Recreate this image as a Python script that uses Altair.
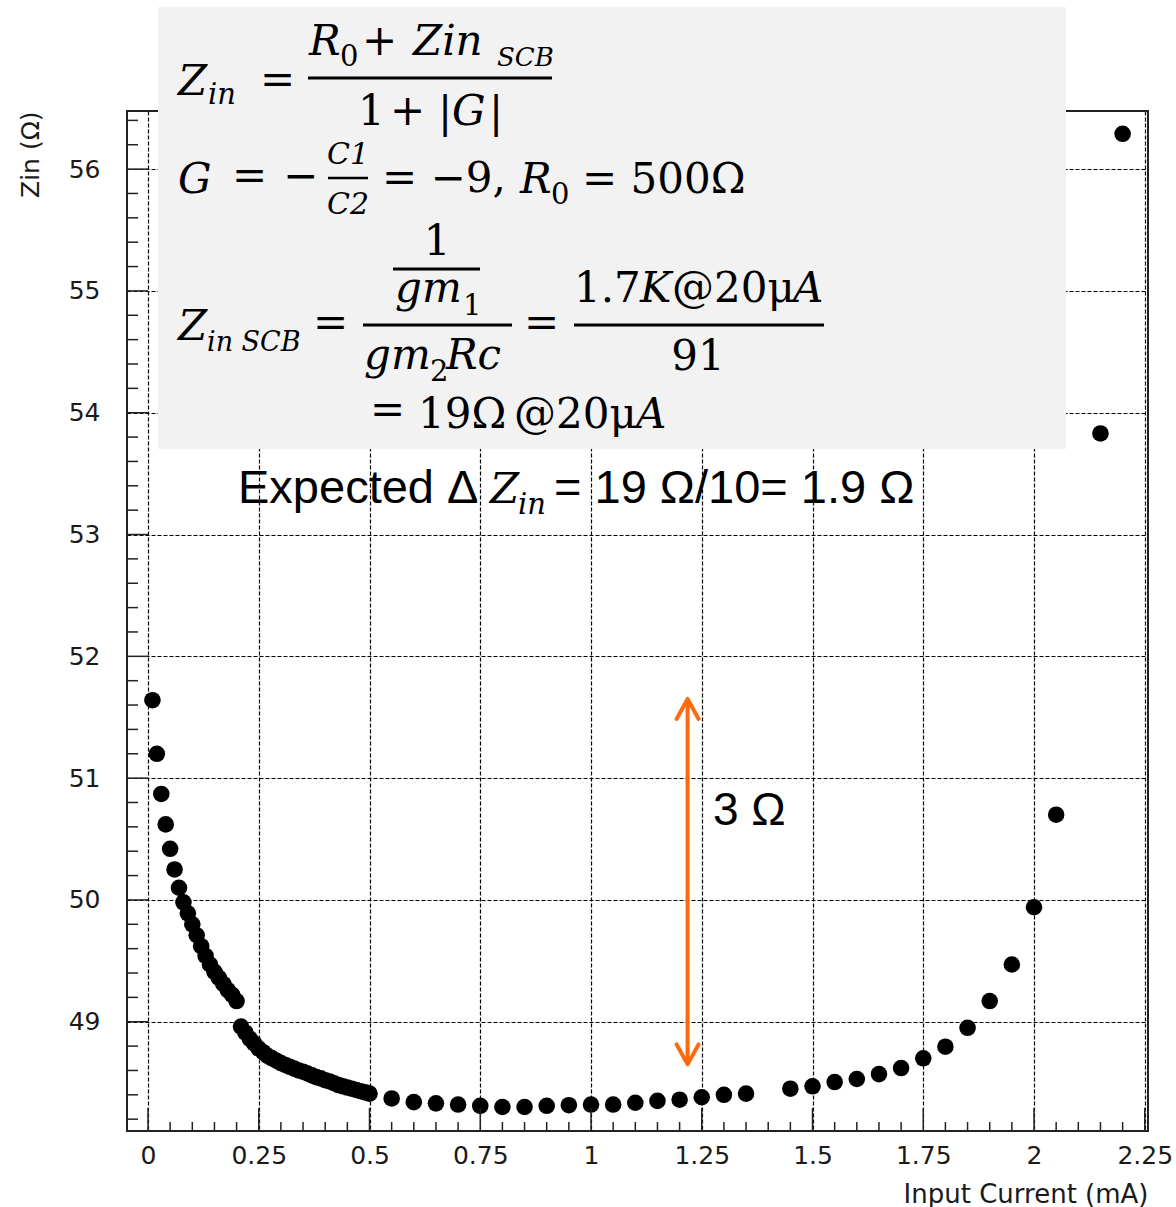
import altair as alt
import pandas as pd

# ---- measured input impedance vs. input current ----
current_mA = [
    0.01, 0.02, 0.03, 0.04, 0.05, 0.06, 0.07, 0.08, 0.09, 0.10,
    0.11, 0.12, 0.13, 0.14, 0.15, 0.16, 0.17, 0.18, 0.19, 0.20,
    0.21, 0.22, 0.23, 0.24, 0.25, 0.26, 0.27, 0.28, 0.29, 0.30,
    0.31, 0.32, 0.33, 0.34, 0.35, 0.36, 0.37, 0.38, 0.39, 0.40,
    0.41, 0.42, 0.43, 0.44, 0.45, 0.46, 0.47, 0.48, 0.49, 0.50,
    0.55, 0.60, 0.65, 0.70, 0.75, 0.80, 0.85, 0.90, 0.95, 1.00,
    1.05, 1.10, 1.15, 1.20, 1.25, 1.30, 1.35,
    1.45, 1.50, 1.55, 1.60, 1.65, 1.70, 1.75, 1.80, 1.85, 1.90, 1.95,
    2.00, 2.05, 2.15, 2.20,
]
zin_ohm = [
    51.64, 51.20, 50.87, 50.62, 50.42, 50.25, 50.10, 49.98, 49.89, 49.80,
    49.71, 49.62, 49.54, 49.47, 49.41, 49.36, 49.31, 49.26, 49.22, 49.17,
    48.96, 48.91, 48.86, 48.82, 48.78, 48.75, 48.72, 48.70, 48.68, 48.66,
    48.645, 48.63, 48.615, 48.60, 48.59, 48.575, 48.56, 48.545, 48.535, 48.52,
    48.51, 48.495, 48.48, 48.47, 48.46, 48.45, 48.44, 48.43, 48.42, 48.41,
    48.37, 48.34, 48.33, 48.32, 48.31, 48.30, 48.30, 48.31, 48.315, 48.32,
    48.32, 48.335, 48.35, 48.36, 48.38, 48.40, 48.41,
    48.45, 48.47, 48.505, 48.53, 48.57, 48.62, 48.70, 48.795, 48.95, 49.17, 49.47,
    49.94, 50.70, 53.83, 56.29,
]

# axis ticks
x_major = [0, 0.25, 0.5, 0.75, 1, 1.25, 1.5, 1.75, 2, 2.25]
y_major = [49, 50, 51, 52, 53, 54, 55, 56]
x_minor = [round(m + k * 0.05, 2) for m in x_major[:-1] for k in (1, 2, 3, 4)]
y_minor = [round(48.0 + k * 0.2, 1) for k in range(1, 43) if k % 5 != 0]

# measured spread marked by the double arrow
arrow_current = 1.218
arrow_low = 48.65
arrow_delta = 3.0
arrow_high = arrow_low + arrow_delta

# ---- layout ----
W, H = 1021, 1020          # plot area
OX, OY = 127, 111          # plot origin inside the page
SANS = "DejaVu Sans"
TEXT_SANS = "Liberation Sans"
SERIF = "DejaVu Serif"
ORANGE = "#FF6A0D"
MATH = 42                  # formula font size
SUB = 29                   # subscript size

xs = alt.Scale(domain=[-0.0474, 2.2573], nice=False, zero=False)
ys = alt.Scale(domain=[48.103, 56.477], nice=False, zero=False)

one = alt.Data(values=[{"k": 0}])

pts = pd.DataFrame({"current": current_mA, "zin": zin_ohm})

x_axis = alt.Axis(
    values=x_major, grid=True, gridColor="#000", gridDash=[4, 2], gridWidth=1.2,
    ticks=False, domain=False, labelExpr="'' + datum.value",
    labelFont=SANS, labelFontSize=25, labelColor="#1a1a1a", labelPadding=12,
    title="Input Current (mA)", titleFont=SANS, titleFontSize=26,
    titleFontWeight="normal", titleColor="#1a1a1a", titleAnchor="end",
    titleAlign="right", titleBaseline="alphabetic", titleX=W, titleY=71,
)
y_axis = alt.Axis(
    values=y_major, grid=True, gridColor="#000", gridDash=[4, 2], gridWidth=1.2,
    ticks=False, domain=False, labelExpr="'' + datum.value",
    labelFont=SANS, labelFontSize=25, labelColor="#1a1a1a", labelPadding=27,
    title="Zin (Ω)", titleFont=SANS, titleFontSize=25, titleFontWeight="normal",
    titleColor="#1a1a1a", titleAngle=270, titleAlign="right",
    titleBaseline="middle", titleX=-97, titleY=0,
)

base = alt.Chart(pts)

points = base.mark_circle(size=275, color="black", opacity=1).encode(
    x=alt.X("current:Q", scale=xs, axis=x_axis),
    y=alt.Y("zin:Q", scale=ys, axis=y_axis),
)

frame = alt.Chart(one).mark_rect(fillOpacity=0, stroke="#222", strokeWidth=2).encode(
    x=alt.value(0), x2=alt.value(W), y=alt.value(0), y2=alt.value(H)
)


def ticks_x(vals, length):
    return alt.Chart(pd.DataFrame({"t": vals})).mark_rule(
        color="#222", strokeWidth=1.5
    ).encode(x=alt.X("t:Q", scale=xs), y=alt.value(H), y2=alt.value(H - length))


def ticks_y(vals, length):
    return alt.Chart(pd.DataFrame({"t": vals})).mark_rule(
        color="#222", strokeWidth=1.5
    ).encode(y=alt.Y("t:Q", scale=ys), x=alt.value(0), x2=alt.value(length))


arrow_df = pd.DataFrame({"c": [arrow_current], "lo": [arrow_low], "hi": [arrow_high]})
arrow_line = alt.Chart(arrow_df).mark_rule(color=ORANGE, strokeWidth=4).encode(
    x=alt.X("c:Q", scale=xs), y=alt.Y("lo:Q", scale=ys), y2="hi:Q"
)
head_up = alt.Chart(arrow_df).mark_point(
    shape="M -0.55 1 L 0 0 L 0.55 1", filled=False, size=1600,
    color=ORANGE, strokeWidth=4, opacity=1, strokeCap="round", strokeJoin="round",
).encode(x=alt.X("c:Q", scale=xs), y=alt.Y("hi:Q", scale=ys))
head_down = alt.Chart(arrow_df).mark_point(
    shape="M -0.55 -1 L 0 0 L 0.55 -1", filled=False, size=1600,
    color=ORANGE, strokeWidth=4, opacity=1, strokeCap="round", strokeJoin="round",
).encode(x=alt.X("c:Q", scale=xs), y=alt.Y("lo:Q", scale=ys))

box = alt.Chart(one).mark_rect(color="#f2f2f2").encode(
    x=alt.value(158 - OX), x2=alt.value(1066 - OX),
    y=alt.value(7 - OY), y2=alt.value(449 - OY),
)


def note(s, x, y, size=MATH, italic=False, font=SERIF, align="left"):
    return alt.Chart(one).mark_text(
        text=s, font=font, fontSize=size,
        fontStyle="italic" if italic else "normal",
        align=align, baseline="alphabetic", color="black",
    ).encode(x=alt.value(x - OX), y=alt.value(y - OY))


def bar(x1, x2, y, w=3):
    return alt.Chart(one).mark_rule(color="black", strokeWidth=w).encode(
        x=alt.value(x1 - OX), x2=alt.value(x2 - OX), y=alt.value(y - OY)
    )


formula = [
    # Z_in = (R0 + Zin_SCB) / (1 + |G|)
    note("Z", 178, 95, italic=True),
    note("in", 208, 104, SUB, italic=True),
    note("=", 260, 94),
    bar(308, 552, 78),
    note("R", 309, 55, italic=True),
    note("0", 340, 66, SUB),
    note("+", 362, 55),
    note("Zin", 413, 55, italic=True),
    note("SCB", 497, 66, 26, italic=True),
    note("1", 358, 125),
    note("+", 390, 125),
    note("|", 438, 127),
    note("G", 452, 125, italic=True),
    note("|", 489, 127),
    # G = -C1/C2 = -9, R0 = 500 ohm
    note("G", 178, 193, italic=True),
    note("=", 232, 190),
    note("−", 283, 190),
    note("C1", 348, 164, 30, italic=True, align="center"),
    bar(328, 368, 178, 2.5),
    note("C2", 348, 214, 30, italic=True, align="center"),
    note("= −9,", 382, 192),
    note("R", 520, 193, italic=True),
    note("0", 551, 204, SUB),
    note("= 500Ω", 582, 193),
    # Zin_SCB = (1/gm1)/(gm2 Rc) = 1.7K@20uA / 91
    note("Z", 178, 340, italic=True),
    note("in SCB", 207, 351, 27, italic=True),
    note("=", 313, 337),
    bar(363, 512, 325),
    note("1", 437, 255, align="center"),
    bar(393, 480, 269),
    note("gm", 395, 302, italic=True),
    note("1", 463, 315, SUB),
    note("gm", 364, 369, italic=True),
    note("2", 430, 381, SUB),
    note("Rc", 446, 369, italic=True),
    note("=", 524, 337),
    note("1.7", 574, 302),
    note("K", 640, 302, italic=True),
    note("@20μ", 672, 302),
    note("A", 793, 302, italic=True),
    bar(574, 824, 325),
    note("91", 698, 370, align="center"),
    note("=", 370, 424),
    note("19Ω", 418, 428),
    note("@20μ", 514, 428),
    note("A", 636, 428, italic=True),
]

expected = [
    note("Expected Δ", 238, 503, 47, font=TEXT_SANS),
    note("Z", 490, 503, 42, italic=True),
    note("in", 518, 514, SUB, italic=True),
    note("= 19 Ω/10= 1.9 Ω", 554, 503, 47, font=TEXT_SANS),
    note("3 Ω", 713, 825, 46, font=TEXT_SANS),
]

chart = alt.layer(
    points,
    frame,
    ticks_x(x_major, 23), ticks_x(x_minor, 9),
    ticks_y(y_major, 21), ticks_y(y_minor, 11),
    arrow_line, head_up, head_down,
    box,
    *formula,
    *expected,
).properties(
    width=W, height=H,
    padding={"left": OX, "top": OY, "right": 1176 - OX - W, "bottom": 1207 - OY - H},
    autosize=alt.AutoSizeParams(type="none"),
    background="white",
).configure_view(stroke=None)

chart.save("out.html", embed_options={"renderer": "svg", "actions": False})
